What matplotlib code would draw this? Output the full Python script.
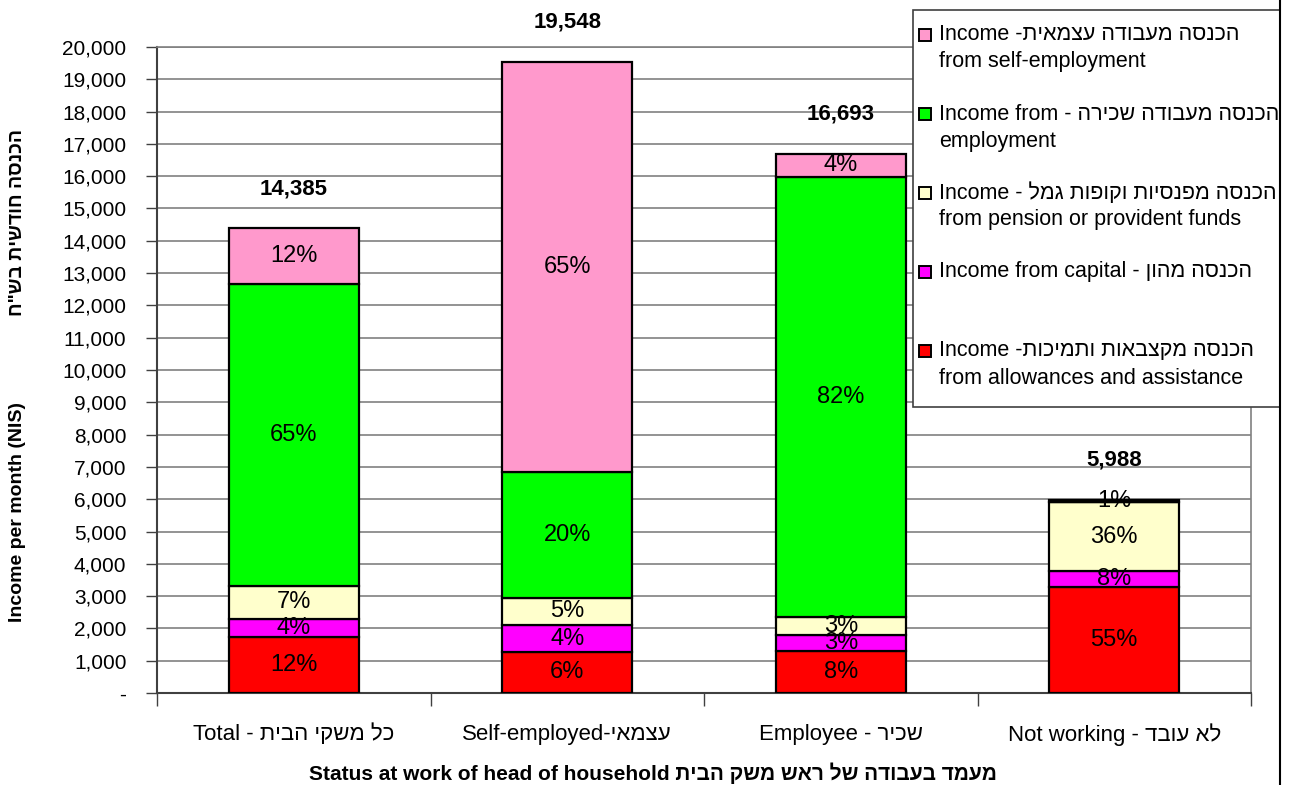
import matplotlib
matplotlib.use('Agg')
import matplotlib.pyplot as plt
from matplotlib.patches import Rectangle
from matplotlib.lines import Line2D
from matplotlib.ticker import FuncFormatter, MultipleLocator, FixedLocator

plt.rcParams['font.family'] = ['Liberation Sans', 'DejaVu Sans']


def rtl(s):
    # matplotlib has no bidi support: give Hebrew in visual order
    return s[::-1]


# categories (visual order strings)
categories = [
    'Total - ' + rtl('כל משקי הבית'),
    'Self-employed-' + rtl('עצמאי'),
    'Employee - ' + rtl('שכיר'),
    'Not working - ' + rtl('לא עובד'),
]

# monthly income by source, NIS (bottom to top of stack)
allowances = [1726, 1270, 1300, 3290]
capital = [575, 830, 500, 480]
pension = [1007, 850, 550, 2150]
employment = [9350, 3900, 13620, 0]
self_employment = [1727, 12698, 723, 68]

# share labels shown in each segment
allowances_pct = ['12%', '6%', '8%', '55%']
capital_pct = ['4%', '4%', '3%', '8%']
pension_pct = ['7%', '5%', '3%', '36%']
employment_pct = ['65%', '20%', '82%', '']
self_employment_pct = ['12%', '65%', '4%', '1%']

series = [
    (allowances, allowances_pct, '#FF0000',
     ['Income -' + rtl('הכנסה מקצבאות ותמיכות'), 'from allowances and assistance']),
    (capital, capital_pct, '#FF00FF',
     ['Income from capital - ' + rtl('הכנסה מהון')]),
    (pension, pension_pct, '#FFFFCC',
     ['Income - ' + rtl('הכנסה מפנסיות וקופות גמל'), 'from pension or provident funds']),
    (employment, employment_pct, '#00FF00',
     ['Income from - ' + rtl('הכנסה מעבודה שכירה'), 'employment']),
    (self_employment, self_employment_pct, '#FF99CC',
     ['Income -' + rtl('הכנסה מעבודה עצמאית'), 'from self-employment']),
]

W, H = 1291, 785
fig = plt.figure(figsize=(W / 100, H / 100), dpi=100)
ax = fig.add_axes([157 / W, 1 - 693 / H, 1094 / W, 646 / H])

x = list(range(len(categories)))
bottom = [0] * len(categories)
for vals, pcts, color, _ in series:
    ax.bar(x, vals, width=0.475, bottom=bottom, color=color,
           edgecolor='black', linewidth=1.6, zorder=3)
    for i, (v, p) in enumerate(zip(vals, pcts)):
        if p:
            ax.text(i, bottom[i] + v / 2, p, ha='center', va='center',
                    fontsize=17, zorder=4)
    bottom = [b + v for b, v in zip(bottom, vals)]

for i, tot in enumerate(bottom):
    ax.text(i, tot + 1230, f'{tot:,}', ha='center', va='center',
            fontsize=16, fontweight='bold', clip_on=False)

ax.set_xlim(-0.5, 3.5)
ax.set_ylim(0, 20000)
ax.yaxis.set_major_locator(MultipleLocator(1000))
ax.yaxis.set_major_formatter(FuncFormatter(lambda v, p: '-' if v == 0 else f'{int(v):,}'))
ax.tick_params(axis='y', labelsize=15, length=8, width=1, color='#404040', pad=14)
ax.set_xticks(x)
ax.set_xticklabels(categories, fontsize=16)
ax.xaxis.set_minor_locator(FixedLocator([-0.5, 0.5, 1.5, 2.5, 3.5]))
ax.tick_params(axis='x', which='major', length=0, pad=22)
ax.tick_params(axis='x', which='minor', length=9, width=1, color='#404040')
ax.grid(axis='y', color='#808080', linewidth=1.2, zorder=0)
ax.set_axisbelow(True)
for side in ['left', 'bottom']:
    ax.spines[side].set_color('#404040')
    ax.spines[side].set_linewidth(1.5)
for side in ['top', 'right']:
    ax.spines[side].set_color('#808080')
    ax.spines[side].set_linewidth(1.2)

ax.set_xlabel('Status at work of head of household ' + rtl('מעמד בעבודה של ראש משק הבית'),
              fontsize=15, fontweight='bold')
ax.xaxis.set_label_coords(0.453, -0.108)
fig.text(18 / W, 1 - 375 / H,
         'Income per month (NIS)' + ' ' * 16 + rtl('הכנסה חודשית בש"ח'),
         rotation=90, ha='center', va='center', fontsize=14, fontweight='bold')

# legend box drawn by hand so the swatch sits on the first text line
lax = fig.add_axes([913 / W, 1 - 407 / H, 367 / W, 397 / H])
lax.set_xlim(0, 367)
lax.set_ylim(397, 0)
lax.axis('off')
lax.add_patch(Rectangle((0, 0), 367, 397, facecolor='white', edgecolor='#404040',
                        linewidth=1.2, clip_on=False))
for k, (_, _, color, lines) in enumerate(reversed(series)):
    y0 = 25 + k * 79
    lax.add_patch(Rectangle((6, y0 - 6), 12, 12, facecolor=color,
                            edgecolor='black', linewidth=1.4))
    for j, line in enumerate(lines):
        lax.text(26, y0 + j * 27, line, ha='left', va='center', fontsize=15.5)

fig.add_artist(Line2D([1280 / W, 1280 / W], [0, 1], color='black', linewidth=1.5))

fig.savefig('out.png', dpi=100)
